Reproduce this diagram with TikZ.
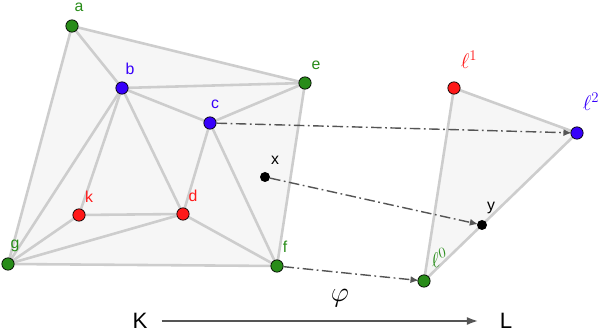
\RequirePackage{fix-cm}
\documentclass[tikz,border=0pt]{standalone}
\usepackage{fontspec}
\setmainfont{Liberation Sans}
\usetikzlibrary{arrows.meta}

\definecolor{vgreen}{RGB}{40,140,25}
\definecolor{vblue}{RGB}{55,0,250}
\definecolor{vred}{RGB}{255,25,25}
\definecolor{edgegray}{RGB}{205,205,205}
\definecolor{fillgray}{RGB}{246,246,246}
\definecolor{mapgray}{RGB}{85,85,85}

\begin{document}
\begin{tikzpicture}[
    x = 0.03cm, y = 0.03cm,
    vert/.style = {
        circle,
        draw          = black,
        line width    = 0.6pt,
        minimum size  = 0.37cm,
        inner sep     = 0pt
    },
    pnt/.style = {
        circle,
        fill          = black,
        minimum size  = 0.3cm,
        inner sep     = 0pt
    },
    lab/.style = {
        font          = \fontsize{13.5}{15}\selectfont,
        inner sep     = 0pt
    },
    ell/.style = {
        font          = \fontsize{18}{20}\selectfont,
        inner sep     = 0pt
    },
    simp/.style = {
        draw          = edgegray,
        line width    = 2.2pt
    },
    mapto/.style = {
        draw          = mapgray,
        line width    = 1.2pt,
        dash pattern  = on 9pt off 3pt on 1.5pt off 3pt,
        -{Latex[length=7pt,width=6pt]},
        shorten >     = -1pt
    }
]

\useasboundingbox (0,0) rectangle (604,332);

% ================================================================
%  COMPLEJO K (fondo + aristas)
% ================================================================

\fill[fillgray] (72,306) -- (305,249) -- (277,66) -- (8,68) -- cycle;
\fill[fillgray] (454,244) -- (577,199) -- (424,51) -- cycle;

\coordinate (pa) at (72,306);
\coordinate (pb) at (122,244);
\coordinate (pc) at (210,209);
\coordinate (pe) at (305,249);
\coordinate (pk) at (79,117);
\coordinate (pd) at (183,118);
\coordinate (pg) at (8,68);
\coordinate (pf) at (277,66);
\coordinate (pl1) at (454,244);
\coordinate (pl2) at (577,199);
\coordinate (pl0) at (424,51);

\foreach \u/\v in {pa/pb, pa/pe, pa/pg, pb/pe, pb/pc, pc/pe, pb/pk,
                   pb/pg, pb/pd, pc/pd, pc/pf, pe/pf, pk/pd, pk/pg,
                   pg/pd, pd/pf, pg/pf, pl1/pl2, pl1/pl0, pl2/pl0}{
    \draw[simp] (\u) -- (\v);
}

% ================================================================
%  VÉRTICES
% ================================================================

\node[vert, fill=vgreen] (a) at (pa) {};
\node[vert, fill=vblue]  (b) at (pb) {};
\node[vert, fill=vblue]  (c) at (pc) {};
\node[vert, fill=vgreen] (e) at (pe) {};
\node[vert, fill=vred]   (k) at (pk) {};
\node[vert, fill=vred]   (d) at (pd) {};
\node[vert, fill=vgreen] (g) at (pg) {};
\node[vert, fill=vgreen] (f) at (pf) {};
\node[pnt]               (x) at (265,155) {};

\node[vert, fill=vred]   (l1) at (pl1) {};
\node[vert, fill=vblue]  (l2) at (pl2) {};
\node[vert, fill=vgreen] (l0) at (pl0) {};
\node[pnt]               (y)  at (482,107) {};

% ================================================================
%  ETIQUETAS
% ================================================================

\node[lab, color=vgreen] at (79,325) {a};
\node[lab, color=vblue]  at (130,263) {b};
\node[lab, color=vblue]  at (215,228) {c};
\node[lab, color=vgreen] at (316,267) {e};
\node[lab, color=vred]   at (89,135) {k};
\node[lab, color=vred]   at (193,136) {d};
\node[lab, color=vgreen] at (15,86) {g};
\node[lab, color=vgreen] at (285,85) {f};
\node[lab]               at (275,172) {x};
\node[lab]               at (491,124) {y};

\node[ell, color=vred]   at (469,272) {$\ell^{1}$};
\node[ell, color=vblue]  at (591,230) {$\ell^{2}$};
\node[ell, color=vgreen, rotate=12] at (439,74) {$\ell^{0}$};

% ================================================================
%  APLICACIÓN
% ================================================================

\draw[mapto] (c) -- (l2);
\draw[mapto] (x) -- (y);
\draw[mapto] (f) -- (l0);

\node[font=\fontsize{19}{21}\selectfont, inner sep=0pt] (K) at (140,11) {K};
\node[font=\fontsize{19}{21}\selectfont, inner sep=0pt] (L) at (506,11) {L};
\draw[mapgray, line width=2.4pt, -{Latex[length=10pt,width=7pt]}]
    (K.east) ++(14,0) coordinate (k0) -- ([xshift=-18]L.west |- k0);
\node[font=\fontsize{24}{26}\selectfont, inner sep=0pt] (phi) at (340,34) {$\varphi$};

\end{tikzpicture}
\end{document}
